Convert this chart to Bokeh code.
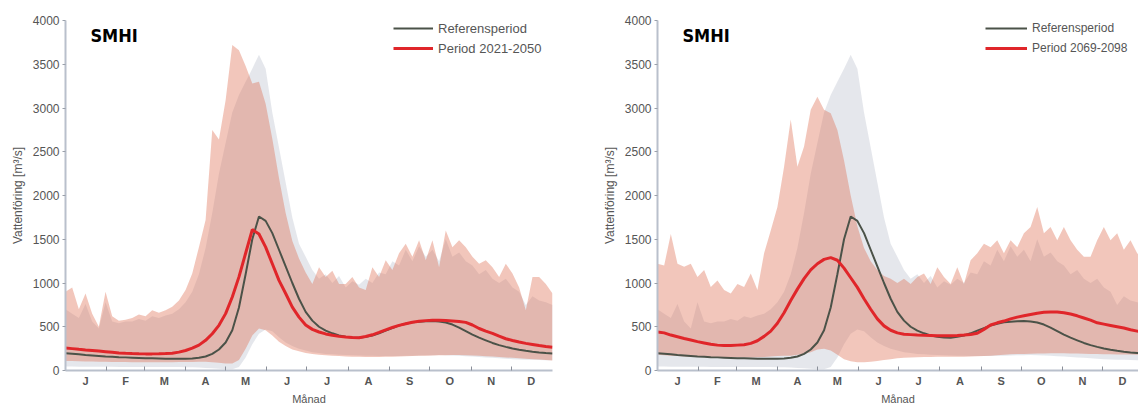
from bokeh.plotting import figure
from bokeh.models import FixedTicker, Legend, LegendItem, Label, Range1d, ColumnDataSource
from bokeh.layouts import row
from bokeh.embed import file_html
from bokeh.resources import INLINE

# ---- data (day of year, sampled every 5 days) ----
DAYS = list(range(0, 366, 5))
MONTH_BOUNDS = [31, 59, 90, 120, 151, 181, 212, 243, 273, 304, 334]
MONTH_CENTERS = [15, 45, 74, 105, 135, 166, 196, 227, 258, 288, 319, 349]
MONTH_LABELS = ["J", "F", "M", "A", "M", "J", "J", "A", "S", "O", "N", "D"]
Y_TICKS = [0, 500, 1000, 1500, 2000, 2500, 3000, 3500, 4000]

ref_mean = [198, 192, 185, 178, 172, 166, 160, 156, 152, 150,
            147, 144, 141, 139, 137, 135, 134, 134, 135, 138,
            145, 160, 190, 240, 320, 460, 720, 1100, 1500, 1760,
            1710, 1570, 1380, 1190, 1000, 820, 670, 570, 500, 455,
            425, 400, 385, 378, 375, 385, 400, 425, 455, 485,
            515, 535, 550, 558, 562, 565, 560, 548, 525, 490,
            450, 410, 375, 345, 315, 290, 270, 252, 238, 225,
            215, 207, 200, 195]
ref_lo = [45, 45, 44, 44, 43, 43, 42, 42, 41, 41,
          40, 40, 40, 40, 40, 40, 40, 40, 38, 36,
          34, 30, 25, 20, 15, 15, 40, 150, 300, 420,
          470, 450, 380, 320, 280, 250, 230, 210, 200, 190,
          185, 180, 178, 175, 172, 170, 168, 166, 165, 165,
          166, 168, 170, 172, 174, 175, 176, 175, 172, 168,
          164, 160, 155, 150, 145, 140, 135, 130, 127, 124,
          122, 120, 118, 116]
ref_hi = [700, 650, 600, 760, 560, 480, 780, 560, 540, 560,
          560, 590, 570, 620, 600, 630, 650, 700, 780, 900,
          1100, 1400, 1800, 2250, 2600, 2950, 3150, 3300, 3450, 3610,
          3450, 2950, 2550, 2150, 1750, 1450, 1300, 1150, 1050, 1100,
          1000, 1080, 950, 1020, 980, 1050, 1000, 1120, 1100, 1250,
          1200, 1380, 1250, 1420, 1300, 1380, 1250, 1500, 1300, 1350,
          1250, 1200, 1100, 1150, 1050, 1000, 1050, 950, 900, 750,
          850, 800, 780, 750]

p1_mean = [256, 250, 242, 235, 229, 222, 215, 208, 200, 196,
           193, 191, 190, 190, 191, 194, 198, 210, 229, 255,
           290, 345, 420, 516, 650, 840, 1070, 1340, 1610, 1560,
           1410, 1220, 1030, 880, 725, 610, 520, 470, 440, 418,
           402, 390, 382, 376, 374, 388, 408, 435, 465, 492,
           516, 535, 552, 563, 570, 573, 574, 572, 567, 560,
           550, 520, 480, 450, 424, 392, 363, 343, 325, 310,
           298, 285, 275, 267]
p1_lo = [110, 108, 106, 104, 102, 100, 99, 98, 97, 96,
         95, 95, 95, 95, 95, 95, 95, 96, 97, 98,
         100, 100, 95, 90, 80, 80, 120, 250, 400, 480,
         460, 400, 330, 280, 240, 220, 200, 190, 180, 175,
         170, 165, 160, 158, 156, 155, 155, 155, 156, 158,
         160, 162, 165, 168, 170, 172, 174, 175, 176, 176,
         175, 172, 168, 164, 160, 155, 150, 145, 140, 135,
         130, 125, 120, 115]
p1_hi = [900, 950, 700, 880, 650, 500, 900, 620, 570, 580,
         600, 640, 620, 690, 660, 690, 730, 800, 920, 1110,
         1410, 1720, 2750, 2640, 3090, 3720, 3660, 3480, 3280, 3300,
         3050, 2650, 2200, 1800, 1480, 1280, 1120, 990, 1180, 1070,
         1140, 990, 990, 1070, 950, 920, 1180, 1070, 1260, 1150,
         1340, 1450, 1300, 1490, 1260, 1490, 1180, 1600, 1410, 1490,
         1410, 1300, 1220, 1260, 1180, 1070, 1220, 1110, 950, 690,
         1070, 1070, 990, 880]

p2_mean = [440, 430, 405, 385, 365, 348, 330, 315, 300, 290,
           285, 285, 290, 295, 310, 340, 390, 450, 540, 660,
           800, 930, 1050, 1150, 1220, 1270, 1290, 1260, 1170, 1060,
           950, 820, 700, 590, 510, 460, 430, 415, 410, 405,
           402, 400, 398, 396, 396, 400, 405, 412, 425, 470,
           520, 545, 565, 590, 610, 625, 640, 655, 665, 668,
           668, 660, 645, 625, 600, 575, 545, 530, 515, 500,
           485, 465, 450, 440]
p2_lo = [180, 175, 170, 165, 160, 158, 156, 154, 152, 150,
         150, 150, 150, 150, 150, 152, 155, 160, 165, 168,
         170, 180, 190, 210, 240, 250, 230, 180, 130, 105,
         95, 95, 100, 110, 120, 130, 140, 145, 150, 152,
         154, 155, 156, 157, 158, 158, 158, 160, 162, 165,
         170, 175, 180, 185, 188, 190, 192, 194, 195, 196,
         196, 196, 195, 194, 192, 190, 188, 186, 185, 184,
         183, 182, 181, 180]
p2_hi = [1220, 1200, 1560, 1220, 1185, 1220, 1070, 1150, 955, 1030,
         920, 880, 990, 955, 1110, 920, 1340, 1600, 1870, 2330,
         2870, 2330, 2560, 2980, 3130, 2980, 2940, 2750, 2400, 2000,
         1650, 1400, 1250, 1150, 1080, 1050, 1000, 1050, 990, 1070,
         1110, 990, 1180, 1070, 990, 1180, 990, 1260, 1340, 1450,
         1410, 1490, 1340, 1490, 1410, 1570, 1640, 1870, 1570, 1640,
         1490, 1640, 1490, 1380, 1300, 1300, 1490, 1640, 1490, 1570,
         1380, 1490, 1340, 1260]

FONT = "Liberation Sans"
REF_BAND = "#b4b9c8"
FUT_BAND = "#dc6a4c"
REF_LINE = "#4b5248"
FUT_LINE = "#e0262a"
AXIS_COL = "#b9c0cc"


def panel(width, left, right, x_end, f_mean, f_lo, f_hi, f_label, leg_x, glyph_w, leg_font):
    p = figure(width=width, height=407, x_range=Range1d(0, x_end), y_range=Range1d(0, 4000),
               output_backend="svg", toolbar_location=None,
               min_border_left=left, min_border_right=right,
               min_border_top=20, min_border_bottom=37)
    p.outline_line_color = None
    p.grid.visible = False

    src = ColumnDataSource(dict(day=DAYS, ref_mean=ref_mean, ref_lo=ref_lo, ref_hi=ref_hi,
                                f_mean=f_mean, f_lo=f_lo, f_hi=f_hi))
    p.varea(x="day", y1="ref_lo", y2="ref_hi", source=src, fill_color=REF_BAND, fill_alpha=0.34)
    p.varea(x="day", y1="f_lo", y2="f_hi", source=src, fill_color=FUT_BAND, fill_alpha=0.38)
    r_ref = p.line("day", "ref_mean", source=src, line_color=REF_LINE, line_width=2)
    r_fut = p.line("day", "f_mean", source=src, line_color=FUT_LINE, line_width=3)

    # x axis
    xa = p.xaxis[0]
    xa.ticker = FixedTicker(ticks=MONTH_CENTERS, minor_ticks=MONTH_BOUNDS)
    xa.major_label_overrides = {c: m for c, m in zip(MONTH_CENTERS, MONTH_LABELS)}
    xa.major_tick_line_color = None
    xa.major_tick_in = 0
    xa.major_tick_out = 0
    xa.minor_tick_in = 4
    xa.minor_tick_out = 0
    xa.minor_tick_line_color = "#8a8f99"
    xa.axis_line_color = AXIS_COL
    xa.axis_line_width = 2
    xa.major_label_text_font = FONT
    xa.major_label_text_font_size = "11px"
    xa.major_label_text_font_style = "bold"
    xa.major_label_text_color = "#555555"
    xa.major_label_standoff = 4
    xa.axis_label = "Månad"
    xa.axis_label_text_font = FONT
    xa.axis_label_text_font_size = "11px"
    xa.axis_label_text_font_style = "normal"
    xa.axis_label_text_color = "#555555"
    xa.axis_label_standoff = 3

    # y axis
    ya = p.yaxis[0]
    ya.ticker = FixedTicker(ticks=Y_TICKS)
    ya.major_tick_in = 0
    ya.major_tick_out = 3
    ya.major_tick_line_color = "#9aa0aa"
    ya.minor_tick_line_color = None
    ya.axis_line_color = AXIS_COL
    ya.axis_line_width = 2
    ya.major_label_text_font = FONT
    ya.major_label_text_font_size = "12px"
    ya.major_label_text_color = "#555555"
    ya.major_label_standoff = 3
    ya.axis_label = "Vattenföring [m³/s]"
    ya.axis_label_text_font = FONT
    ya.axis_label_text_font_size = "12px"
    ya.axis_label_text_font_style = "normal"
    ya.axis_label_text_color = "#555555"
    ya.axis_label_standoff = 5

    legend = Legend(items=[LegendItem(label="Referensperiod", renderers=[r_ref]),
                           LegendItem(label=f_label, renderers=[r_fut])],
                    location=(leg_x, 312), orientation="vertical",
                    padding=0, margin=0, spacing=0,
                    glyph_width=glyph_w, glyph_height=20, label_height=20,
                    label_standoff=5, label_text_font=FONT, label_text_font_size=leg_font,
                    label_text_color="#555555",
                    background_fill_alpha=0, border_line_alpha=0)
    p.add_layout(legend)

    p.add_layout(Label(x=18.7, y=3714, text="SMHI", text_font="DejaVu Sans Condensed",
                       text_font_style="bold", text_font_size="18px", text_color="black"))
    return p


p_left = panel(598, 65, 46, 365, p1_mean, p1_lo, p1_hi, "Period 2021-2050", 328, 40, "13px")
p_right = panel(540, 59, 0, 361, p2_mean, p2_lo, p2_hi, "Period 2069-2098", 328, 42, "12px")

layout = row(p_left, p_right)
open("out.html", "w").write(file_html(layout, INLINE))
